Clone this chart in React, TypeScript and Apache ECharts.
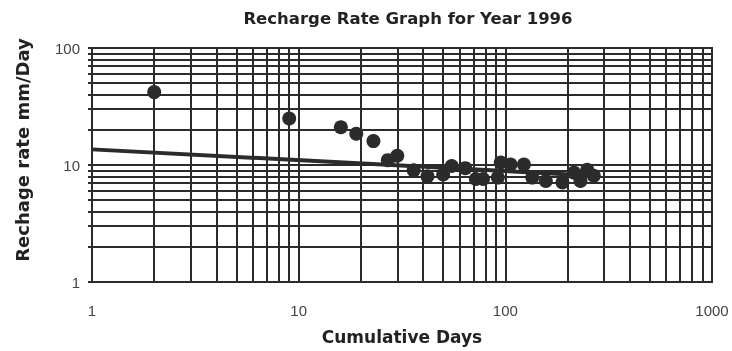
import React, { useEffect, useRef } from "react";
import * as echarts from "echarts";

const titleText = "Recharge Rate Graph for Year 1996";
const xName = "Cumulative Days";
const yName = "Rechage rate mm/Day";

// observed recharge rates (cumulative days vs mm/day)
const days = [2, 9, 16, 19, 23, 27, 30, 36, 42, 50, 55, 64, 72, 78, 92, 95, 106, 123, 135, 157, 189, 215, 231, 249, 268];
const rates = [42, 25, 21, 18.5, 16, 11, 12, 9, 8, 8.3, 9.8, 9.4, 7.6, 7.6, 7.8, 10.5, 10.1, 10.1, 7.8, 7.3, 7.1, 8.6, 7.3, 9.1, 8.1];

// fitted trend line end points
const fitDays = [1, 270];
const fitRates = [13.6, 8.1];

const INK = "#2b2b2b";

export default function App() {
  const ref = useRef<HTMLDivElement>(null);
  useEffect(() => {
    if (!ref.current) return;
    const chart = echarts.init(ref.current, undefined, { renderer: "svg" });
    chart.setOption({
      animation: false,
      title: {
        text: titleText,
        left: 408,
        top: 10,
        padding: 0,
        textAlign: "center",
        textStyle: { fontFamily: "DejaVu Sans", fontWeight: "bold", fontSize: 16.5, color: "#222" },
      },
      grid: {
        left: 92,
        right: 20,
        top: 48,
        bottom: 69,
        show: true,
        borderColor: INK,
        borderWidth: 2,
        outerBoundsMode: "none",
        containLabel: false,
      },
      xAxis: {
        type: "log",
        logBase: 10,
        min: 1,
        max: 1000,
        name: xName,
        nameLocation: "middle",
        nameGap: 46,
        nameTextStyle: { fontFamily: "DejaVu Sans", fontWeight: "bold", fontSize: 17, color: "#222" },
        axisLine: { show: true, lineStyle: { color: INK, width: 2 } },
        axisTick: { show: false },
        minorTick: { show: false, splitNumber: 9 },
        axisLabel: { margin: 21, fontSize: 15, color: "#444", fontFamily: "Liberation Sans", formatter: (v: number) => String(v) },
        splitLine: { show: true, lineStyle: { color: INK, width: 2 } },
        minorSplitLine: { show: true, lineStyle: { color: INK, width: 2 } },
      },
      yAxis: {
        type: "log",
        logBase: 10,
        min: 1,
        max: 100,
        name: yName,
        nameLocation: "middle",
        nameGap: 61,
        nameTextStyle: {
          fontFamily: "DejaVu Sans",
          fontWeight: "bold",
          fontSize: 18,
          color: "#222",
          padding: [0, 0, 0, 30],
        },
        axisLine: { show: true, lineStyle: { color: INK, width: 2 } },
        axisTick: { show: true, length: 4, lineStyle: { color: INK, width: 2 } },
        minorTick: { show: true, splitNumber: 9, length: 4, lineStyle: { color: INK, width: 2 } },
        axisLabel: { margin: 12, fontSize: 15, color: "#444", fontFamily: "Liberation Sans", formatter: (v: number) => String(v) },
        splitLine: { show: true, lineStyle: { color: INK, width: 2 } },
        minorSplitLine: { show: true, lineStyle: { color: INK, width: 2 } },
      },
      series: [
        {
          type: "line",
          data: fitDays.map((d, i) => [d, fitRates[i]]),
          symbol: "none",
          lineStyle: { color: INK, width: 4 },
          z: 3,
        },
        {
          type: "scatter",
          data: days.map((d, i) => [d, rates[i]]),
          symbol: "circle",
          symbolSize: 14,
          itemStyle: { color: INK, opacity: 1 },
          z: 4,
        },
      ],
    });
    return () => chart.dispose();
  }, []);
  return (
    <div
      ref={ref}
      style={{ position: "fixed", left: 0, top: 0, width: 732, height: 351 }}
    />
  );
}
